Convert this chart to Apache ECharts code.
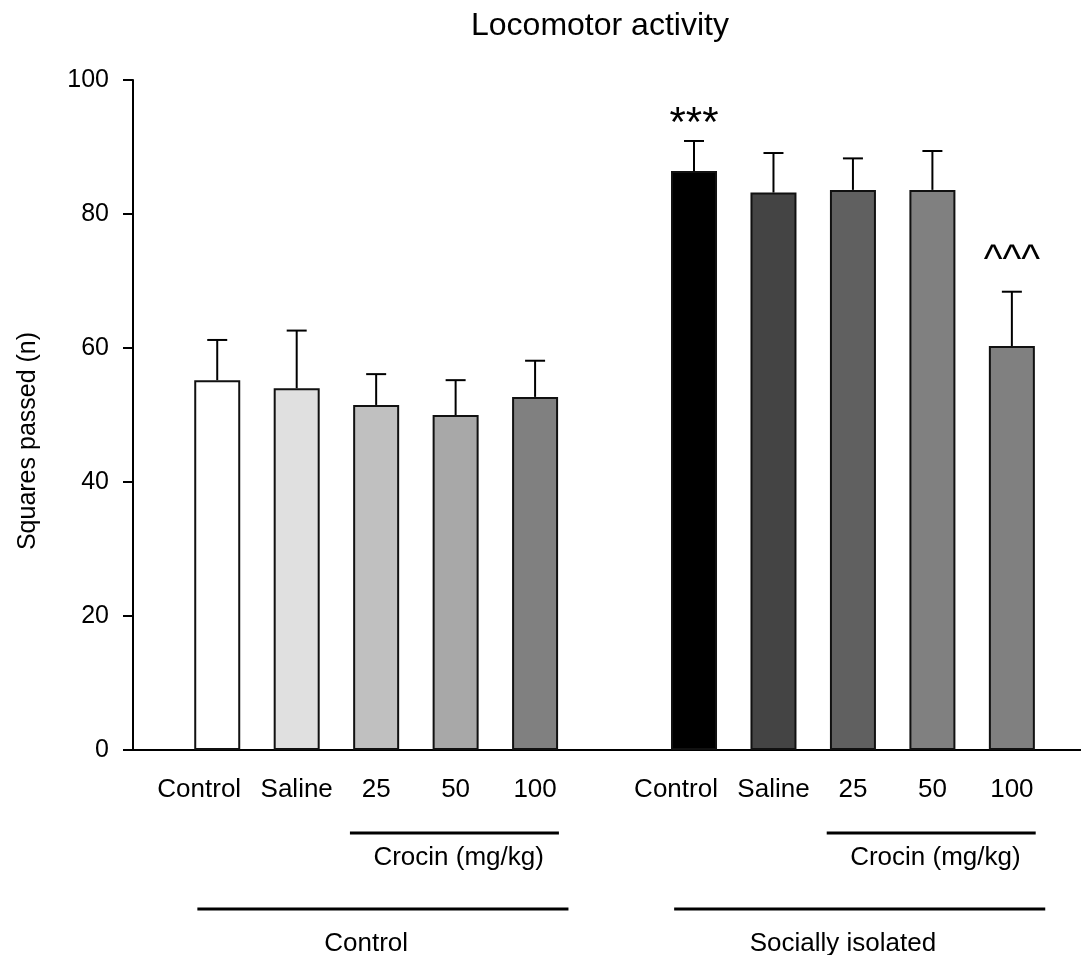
<!DOCTYPE html>
<html>
<head>
<meta charset="utf-8">
<script src="https://cdn.jsdelivr.net/npm/echarts@6/dist/echarts.min.js"></script>
<style>html,body{margin:0;padding:0;background:#fff}#c{width:1081px;height:955px}</style>
</head>
<body>
<div id="c"></div>
<script>
// ---- data ----
const categories = ['Control','Saline','25','50','100','','Control','Saline','25','50','100'];
const means      = [55.2, 54.0, 51.5, 50.0, 52.7, null, 86.4, 83.2, 83.6, 83.6, 60.3];
const errors     = [6.0, 8.6, 4.6, 5.2, 5.4, null, 4.5, 5.9, 4.7, 5.8, 8.1];
const barColors  = ['#ffffff','#e0e0e0','#c0c0c0','#a8a8a8','#808080', null,
                    '#000000','#444444','#606060','#808080','#808080'];
const signif     = ['','','','','','','***','','','','^^^'];
const yTicks     = [0, 20, 40, 60, 80, 100];
const bracketLabels = ['Crocin (mg/kg)','Crocin (mg/kg)','Control','Socially isolated'];
const bracketFrom   = [2, 8, 0, 6];
const bracketTo     = [4, 10, 4, 10];
const bracketLevel  = [1, 1, 2, 2];

const FONT = 'Liberation Sans, Arial, Helvetica, sans-serif';
const idx = [];
means.forEach((m,i)=>{ if(m!==null) idx.push(i); });

const barData = idx.map(i => ({
  value: [i, means[i]],
  itemStyle: { color: barColors[i], borderColor: '#111', borderWidth: 2 }
}));
const errData = idx.map(i => [i, means[i], errors[i]]);
const bracketData = bracketLabels.map((l,k)=>[bracketFrom[k], bracketTo[k], bracketLevel[k]]);

const chart = echarts.init(document.getElementById('c'), null, {renderer:'canvas'});
chart.setOption({
  animation: false,
  backgroundColor: '#fff',
  title: {
    text: 'Locomotor activity',
    left: 466, top: 5,
    textStyle: { fontFamily: FONT, fontSize: 32, fontWeight: 'normal', color: '#000' }
  },
  grid: { left: 133, right: 0, top: 80, bottom: 205, containLabel: false },
  xAxis: {
    type: 'value',
    min: -1.06, max: 10.87,
    splitLine: { show: false },
    axisLine: { show: true, onZero: false, lineStyle: { color: '#000', width: 2 } },
    axisTick: { show: false },
    axisLabel: {
      customValues: idx,
      margin: 27,
      fontFamily: FONT, fontSize: 26, color: '#000',
      formatter: v => {
        const n = categories[Math.round(v)];
        return n === 'Control' ? '{ctl|Control}' : n;
      },
      rich: { ctl: { fontFamily: FONT, fontSize: 26, color: '#000', padding: [0, 36, 0, 0] } }
    }
  },
  yAxis: {
    type: 'value',
    min: 0, max: 100, interval: 20,
    splitLine: { show: false },
    axisLine: { show: true, onZero: false, lineStyle: { color: '#000', width: 2 } },
    axisTick: { show: true, length: 10, lineStyle: { color: '#000', width: 2 } },
    axisLabel: { margin: 24, fontFamily: FONT, fontSize: 25, color: '#000' },
    name: 'Squares passed (n)',
    nameLocation: 'middle',
    nameRotate: 90,
    nameGap: 92,
    nameTextStyle: { fontFamily: FONT, fontSize: 25, color: '#000', padding: [0, 52, 0, 0] }
  },
  series: [
    {
      type: 'bar',
      data: barData,
      barWidth: 46,
      z: 2
    },
    {
      type: 'custom',
      clip: false,
      z: 3,
      data: errData,
      encode: { x: 0, y: 1 },
      renderItem: (params, api) => {
        const x = api.value(0), m = api.value(1), e = api.value(2);
        const b = api.coord([x, m]);
        const t = api.coord([x, m + e]);
        const children = [
          { type: 'line', shape: { x1: b[0], y1: b[1], x2: t[0], y2: t[1] }, style: { stroke: '#000', lineWidth: 2 } },
          { type: 'line', shape: { x1: t[0]-10, y1: t[1], x2: t[0]+10, y2: t[1] }, style: { stroke: '#000', lineWidth: 2 } }
        ];
        const s = signif[x];
        if (s) {
          const isCaret = s.indexOf('^') >= 0;
          children.push({
            type: 'text',
            style: {
              text: s, x: t[0], y: t[1] + (isCaret ? -11 : 4),
              align: 'center', verticalAlign: 'bottom',
              font: (isCaret ? '40px ' : '42px ') + FONT, fill: '#000'
            }
          });
        }
        return { type: 'group', children };
      }
    },
    {
      type: 'custom',
      clip: false,
      z: 3,
      data: bracketData,
      encode: { x: [0, 1] },
      renderItem: (params, api) => {
        const f = api.value(0), to = api.value(1), lv = api.value(2);
        const base = api.coord([0, 0])[1];
        const padL = lv === 1 ? 0.33 : 0.25;
        const padR = lv === 1 ? 0.3 : 0.42;
        const a = api.coord([f - padL, 0])[0];
        const c = api.coord([to + padR, 0])[0];
        const mid = api.coord([(f + to) / 2, 0])[0];
        const ly = base + (lv === 1 ? 83 : 159);
        const ty = base + (lv === 1 ? 108 : 194);
        return {
          type: 'group',
          children: [
            { type: 'line', shape: { x1: a, y1: ly, x2: c, y2: ly }, style: { stroke: '#000', lineWidth: 3 } },
            { type: 'text', style: {
                text: bracketLabels[params.dataIndex], x: mid + (lv === 1 ? 3 : -10), y: ty,
                align: 'center', verticalAlign: 'middle',
                font: '26px ' + FONT, fill: '#000' } }
          ]
        };
      }
    }
  ]
});
</script>
</body>
</html>
